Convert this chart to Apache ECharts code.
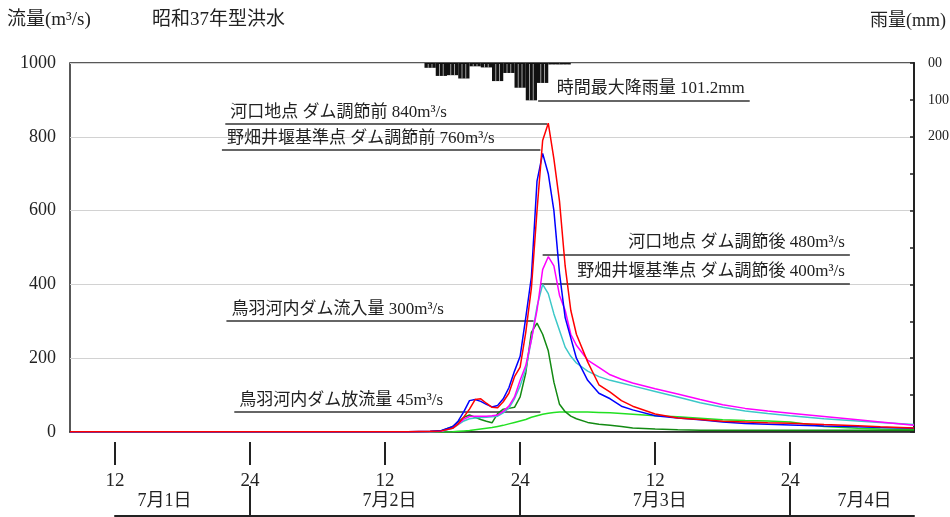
<!DOCTYPE html>
<html><head><meta charset="utf-8">
<script src="https://cdn.jsdelivr.net/npm/echarts@6/dist/echarts.min.js"></script>
<style>html,body{margin:0;padding:0;background:#fff}#c{width:950px;height:517px}</style>
</head><body><div id="c"></div>
<script>
// time in hours counted from 7/1 0:00
const HOURS = [8,16,24,32,38,40,41,42,42.5,43,43.5,44,44.5,45,45.5,46,46.5,47,47.5,48,48.5,49,49.5,50,50.5,51,51.5,52,52.5,53,54,55,56,57,58,60,62,64,66,68,70,72,75,78,80,83];
// 河口地点 ダム調節前
const MOUTH_BEFORE = [1,1,1,1,1, 2,3,10, 22,41,62,88,90,78,67,66,82,105,150,176,270,390,600,790,837,740,625,450,330,265, 190,128,108,85,70, 49,38,34,29,27,25,24, 20,17,14,11];
// 野畑井堰基準点 ダム調節前
const NOBATA_BEFORE = [1,1,1,1,1, 2,4,14, 30,55,85,88,83,75,68,72,90,120,165,205,310,420,680,755,700,600,430,310,255,200, 140,105,90,70,60, 44,38,33,27,23,21,19, 16,14,12,10];
// 河口地点 ダム調節後
const MOUTH_AFTER = [1,1,1,1,1, 1,2,12, 22,35,42,43,43,43,44,46,56,70,95,140,180,250,330,440,475,450,370,330,265,235, 195,175,155,143,133, 117,103,88,74,64,57,51, 42,33,27,18];
// 野畑井堰基準点 ダム調節後
const NOBATA_AFTER = [1,1,1,1,1, 1,2,10, 20,30,36,38,39,40,41,43,52,65,90,125,170,250,340,400,375,320,275,230,205,187, 165,150,140,133,125, 110,95,79,67,57,50,44, 36,30,26,20];
// 鳥羽河内ダム流入量
const DAM_INFLOW = [1,1,1,1,1, 1,3,15, 27,40,46,40,34,29,25,50,62,64,67,95,160,270,295,265,220,135,75,55,43,36, 26,21,18,15,11, 8,6,5,5,5,5,5, 5,5,5,5];
// 鳥羽河内ダム放流量
const DAM_OUTFLOW = [0,0,0,0,0, 0,0,1, 2,3,4,6,8,10,12,15,18,22,26,30,34,40,44,48,51,53,54,54,54,54, 54,53,52,50,48, 44,41,37,33,31,30,27, 15,10,8,7];
// hourly rainfall (start hour of each 1-hour block, mm)
const RAIN_START = [39.5,40.5,41.5,42.5,43.5,44.5,45.5,46.5,47.5,48.5,49.5,50.5,51.5];
const RAIN_MM = [13,35,33,42,9,12,49,27,67,101.2,54,4,4];
const HOUR_TICKS = [12,24,36,48,60,72];
const DAY_BOUNDS = [24,48,72];
const DAY_LABEL_AT = [16.4,36.4,60.4,78.6];

const NOTES = [
  {text:'河口地点 ダム調節前 840m³/s', y:835, from:21.8, to:50.4, pos:'insideStartTop'},
  {text:'野畑井堰基準点 ダム調節前 760m³/s', y:764, from:21.5, to:49.8, pos:'insideStartTop'},
  {text:'河口地点 ダム調節後 480m³/s', y:481, from:50.0, to:77.3, pos:'insideEndTop'},
  {text:'野畑井堰基準点 ダム調節後 400m³/s', y:403, from:49.8, to:77.3, pos:'insideEndTop'},
  {text:'鳥羽河内ダム流入量 300m³/s', y:301, from:21.9, to:49.2, pos:'insideStartTop'},
  {text:'鳥羽河内ダム放流量 45m³/s', y:55, from:22.6, to:49.8, pos:'insideStartTop'}
];
const RAIN_NOTE = {text:'時間最大降雨量 101.2mm', y:101.2, from:49.6, to:68.4, pos:'insideEndTop'};

const FONT = "'Liberation Serif','Noto Sans CJK JP',serif";
const TXT = '#222';

function noteLines(list){
  return list.map(n => [
    {coord:[n.from, n.y], label:{show:true, position:n.pos, formatter:n.text, distance:[5,3], color:TXT, fontSize:17, fontFamily:FONT}},
    {coord:[n.to, n.y]}
  ]);
}
const markLineBase = {silent:true, symbol:['none','none'], animation:false, lineStyle:{color:'#333', width:1.6, type:'solid'}};

function lineSeries(name, arr, color, z){
  return {name, type:'line', xAxisIndex:0, yAxisIndex:0, showSymbol:false, symbol:'none', z,
    lineStyle:{color, width:1.5}, itemStyle:{color},
    data: HOURS.map((t,i)=>[t, arr[i]])};
}

const chart = echarts.init(document.getElementById('c'), null, {renderer:'canvas'});
const series = [
  {type:'custom', name:'雨量', xAxisIndex:0, yAxisIndex:1, z:3,
   data: RAIN_START.map((t,i)=>[t, t+1, RAIN_MM[i]]),
   encode:{x:[0,1], y:2},
   renderItem(params, api){
     const t0 = api.value(0), t1 = api.value(1), v = api.value(2);
     const a = api.coord([t0, 0]), b = api.coord([t1, v]);
     const w = b[0]-a[0], h = b[1]-a[1];
     const ch = [{type:'rect', shape:{x:a[0], y:a[1], width:w, height:h}, style:{fill:'#111'}}];
     for (let k=1;k<3;k++){
       const x = a[0]+w*k/3;
       ch.push({type:'line', shape:{x1:x, y1:a[1]+1, x2:x, y2:b[1]}, style:{stroke:'#fff', lineWidth:0.6}});
     }
     return {type:'group', children:ch};
   },
   markLine: Object.assign({}, markLineBase, {data: noteLines([RAIN_NOTE])})
  },
  lineSeries('鳥羽河内ダム放流量', DAM_OUTFLOW, '#22e022', 4),
  lineSeries('鳥羽河内ダム流入量', DAM_INFLOW, '#138a13', 5),
  lineSeries('野畑井堰基準点 ダム調節後', NOBATA_AFTER, '#3cc8c8', 6),
  lineSeries('河口地点 ダム調節後', MOUTH_AFTER, '#ff00ff', 7),
  lineSeries('野畑井堰基準点 ダム調節前', NOBATA_BEFORE, '#0000ff', 8),
  Object.assign(lineSeries('河口地点 ダム調節前', MOUTH_BEFORE, '#ff0000', 9),
    {markLine: Object.assign({}, markLineBase, {data: noteLines(NOTES)})})
];

const titleStyle = {fontSize:19, fontWeight:'normal', color:TXT, fontFamily:FONT};
chart.setOption({
  animation:false,
  backgroundColor:'#fff',
  title:[
    {text:'流量(m³/s)', left:7, top:11, textStyle:titleStyle, padding:0},
    {text:'昭和37年型洪水', left:152, top:11, textStyle:titleStyle, padding:0},
    {text:'雨量(mm)', right:4, top:12, textStyle:Object.assign({}, titleStyle, {fontSize:18}), padding:0}
  ],
  grid:[
    {left:70, right:36, top:63, bottom:85, show:true, borderColor:'#222', borderWidth:1.5, backgroundColor:'transparent', outerBoundsMode:'none'},
    {left:115, right:36, top:486, height:30, outerBoundsMode:'none'}
  ],
  xAxis:[
    {gridIndex:0, type:'value', min:8, max:83, position:'bottom', axisLine:{show:true, onZero:false, lineStyle:{color:'#222', width:1.5}}, axisTick:{show:false}, axisLabel:{show:false}, splitLine:{show:false}},
    {gridIndex:0, type:'value', min:8, max:83, position:'bottom', offset:10,
     axisLine:{show:false, onZero:false},
     axisTick:{show:true, length:23, customValues:HOUR_TICKS, lineStyle:{color:'#222', width:2}},
     axisLabel:{show:true, customValues:HOUR_TICKS, margin:30, formatter:v => (v%24===0?'24':'12'), color:TXT, fontSize:19, fontFamily:FONT},
     splitLine:{show:false}},
    {gridIndex:1, type:'value', min:12, max:83, position:'bottom',
     axisLine:{show:true, onZero:false, lineStyle:{color:'#222', width:2}},
     axisTick:{show:true, inside:true, length:30, customValues:DAY_BOUNDS, lineStyle:{color:'#222', width:2}},
     axisLabel:{show:true, inside:true, margin:6, customValues:DAY_LABEL_AT, formatter:v => '7月'+(Math.floor(v/24)+1)+'日', color:TXT, fontSize:18, fontFamily:FONT},
     splitLine:{show:false}}
  ],
  yAxis:[
    {gridIndex:0, type:'value', min:0, max:1000, interval:200,
     axisLine:{show:false, onZero:false}, axisTick:{show:false},
     axisLabel:{margin:14, color:TXT, fontSize:18, fontFamily:FONT, formatter:v => String(v)},
     splitLine:{show:true, lineStyle:{color:'#d2d2d2', width:1}}},
    {gridIndex:0, type:'value', position:'right', inverse:true, min:0, max:1000, interval:100,
     axisLine:{show:true, onZero:false, lineStyle:{color:'#222', width:2}},
     axisTick:{show:true, inside:true, length:4, lineStyle:{color:'#222', width:1.5}},
     axisLabel:{margin:14, color:TXT, fontSize:14, fontFamily:FONT, formatter:v => (v===0?'00':(v<=200?String(v):''))},
     splitLine:{show:false}},
    {gridIndex:1, type:'value', min:0, max:1, show:false}
  ],
  series
});
</script>
</body></html>
